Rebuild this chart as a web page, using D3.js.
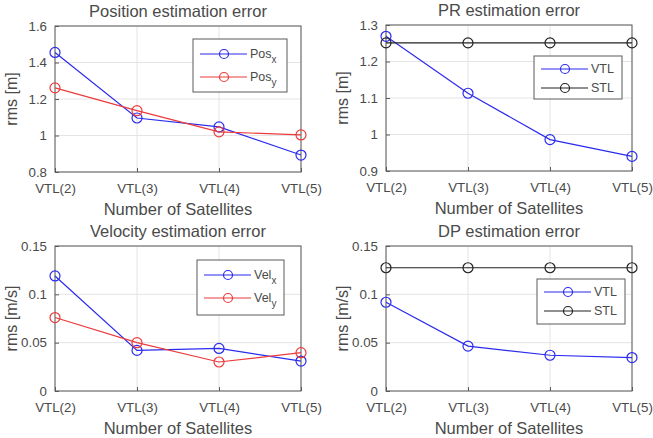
<!DOCTYPE html>
<html>
<head>
<meta charset="utf-8">
<script src="https://cdn.jsdelivr.net/npm/d3@7"></script>
<style>
  body { margin: 0; background: #fff; }
  text { font-family: "Liberation Sans", Arial, sans-serif; fill: #4a4a4a; }
</style>
</head>
<body>
<script>
const categories = ["VTL(2)", "VTL(3)", "VTL(4)", "VTL(5)"];

const posX = [1.455, 1.096, 1.047, 0.893];
const posY = [1.261, 1.136, 1.02, 1.003];
const prVTL = [1.269, 1.113, 0.986, 0.94];
const prSTL = [1.251, 1.251, 1.251, 1.251];
const velX = [0.119, 0.042, 0.044, 0.031];
const velY = [0.076, 0.050, 0.030, 0.0396];
const dpVTL = [0.0918, 0.0464, 0.037, 0.0346];
const dpSTL = [0.1275, 0.1275, 0.1275, 0.1275];

const posTicks = [0.8, 1, 1.2, 1.4, 1.6];
const prTicks = [0.9, 1, 1.1, 1.2, 1.3];
const velTicks = [0, 0.05, 0.1, 0.15];

const BLUE = "#2b2bee", RED = "#ec3b3b", BLACK = "#222";

const svg = d3.select("body").append("svg")
  .attr("width", 653)
  .attr("height", 438);

const panels = [
  { left: 55, top: 26, width: 246, height: 146, title: "Position estimation error", ylabel: "rms [m]",
    ticks: posTicks, series: [
      { values: posX, color: BLUE, name: "Pos", sub: "x" },
      { values: posY, color: RED, name: "Pos", sub: "y" }],
    legend: { x: 193, y: 39, w: 94, h: 53, rows: [54, 77] } },
  { left: 386, top: 25, width: 246, height: 146, title: "PR estimation error", ylabel: "rms [m]",
    ticks: prTicks, series: [
      { values: prVTL, color: BLUE, name: "VTL" },
      { values: prSTL, color: BLACK, name: "STL" }],
    legend: { x: 534, y: 56, w: 88, h: 43, rows: [69, 88] } },
  { left: 55, top: 246, width: 246, height: 145, title: "Velocity estimation error", ylabel: "rms [m/s]",
    ticks: velTicks, series: [
      { values: velX, color: BLUE, name: "Vel", sub: "x" },
      { values: velY, color: RED, name: "Vel", sub: "y" }],
    legend: { x: 197, y: 260, w: 87, h: 55, rows: [275, 298] } },
  { left: 386, top: 246, width: 246, height: 145, title: "DP estimation error", ylabel: "rms [m/s]",
    ticks: velTicks, series: [
      { values: dpVTL, color: BLUE, name: "VTL" },
      { values: dpSTL, color: BLACK, name: "STL" }],
    legend: { x: 537, y: 279, w: 88, h: 45, rows: [292, 311] } }
];

panels.forEach((p) => drawPanel(p));

function drawPanel(p) {
  const g = svg.append("g").attr("transform", "translate(" + p.left + "," + p.top + ")");

  const x = d3.scalePoint()
    .domain(categories)
    .range([0, p.width]);

  const y = d3.scaleLinear()
    .domain(d3.extent(p.ticks))
    .range([p.height, 0]);

  // grid
  g.append("g").selectAll("line")
    .data(p.ticks)
    .enter().append("line")
    .attr("x1", 0).attr("x2", p.width)
    .attr("y1", (d) => y(d)).attr("y2", (d) => y(d))
    .attr("stroke", "#e4e4e4");
  g.append("g").selectAll("line")
    .data(categories)
    .enter().append("line")
    .attr("x1", (d) => x(d)).attr("x2", (d) => x(d))
    .attr("y1", 0).attr("y2", p.height)
    .attr("stroke", "#e4e4e4");

  // axes, ticks pointing in
  const xAxis = g.append("g")
    .attr("transform", "translate(0," + p.height + ")")
    .call(d3.axisBottom(x).tickSizeInner(-4).tickSizeOuter(0).tickPadding(12));
  const yAxis = g.append("g")
    .call(d3.axisLeft(y).tickValues(p.ticks).tickFormat((d) => String(d)).tickSizeInner(-4).tickSizeOuter(0).tickPadding(8));
  [xAxis, yAxis].forEach((a) => {
    a.select(".domain").remove();
    a.selectAll("line").attr("stroke", "#5a5a5a");
    a.selectAll("text").attr("font-size", 13.3).attr("fill", "#4a4a4a")
      .attr("font-family", "Liberation Sans, Arial, sans-serif");
  });

  // frame
  g.append("rect")
    .attr("width", p.width).attr("height", p.height)
    .attr("fill", "none").attr("stroke", "#5a5a5a");

  const line = d3.line()
    .x((d, i) => x(categories[i]))
    .y((d) => y(d));

  p.series.forEach((s) => {
    g.append("path")
      .datum(s.values)
      .attr("fill", "none")
      .attr("stroke", s.color)
      .attr("stroke-width", 1.2)
      .attr("d", line);
    g.selectAll(null)
      .data(s.values)
      .enter().append("circle")
      .attr("cx", (d, i) => x(categories[i]))
      .attr("cy", (d) => y(d))
      .attr("r", 5)
      .attr("fill", "none")
      .attr("stroke", s.color)
      .attr("stroke-width", 1.2);
  });

  // labels
  g.append("text")
    .attr("x", p.width / 2).attr("y", -9)
    .attr("text-anchor", "middle")
    .attr("font-size", 16.5)
    .attr("fill", "#3a3a3a")
    .text(p.title);
  g.append("text")
    .attr("x", p.width / 2).attr("y", p.height + 43)
    .attr("text-anchor", "middle")
    .attr("font-size", 16.5)
    .text("Number of Satellites");
  g.append("text")
    .attr("transform", "translate(" + (-38) + "," + (p.height / 2) + ") rotate(-90)")
    .attr("text-anchor", "middle")
    .attr("font-size", 16)
    .text(p.ylabel);

  // legend
  const L = p.legend;
  svg.append("rect")
    .attr("x", L.x).attr("y", L.y).attr("width", L.w).attr("height", L.h)
    .attr("fill", "#fff").attr("stroke", "#5a5a5a");
  p.series.forEach((s, i) => {
    const ry = L.rows[i];
    svg.append("line")
      .attr("x1", L.x + 7).attr("x2", L.x + 54)
      .attr("y1", ry).attr("y2", ry)
      .attr("stroke", s.color).attr("stroke-width", 1.2);
    svg.append("circle")
      .attr("cx", L.x + 31).attr("cy", ry).attr("r", 4.5)
      .attr("fill", "none").attr("stroke", s.color).attr("stroke-width", 1.2);
    const t = svg.append("text")
      .attr("x", L.x + 57).attr("y", ry + 4)
      .attr("font-size", 12.5)
      .text(s.name);
    if (s.sub) {
      t.append("tspan").attr("dy", 5).attr("font-size", 10).text(s.sub);
    }
  });
}
</script>
</body>
</html>
